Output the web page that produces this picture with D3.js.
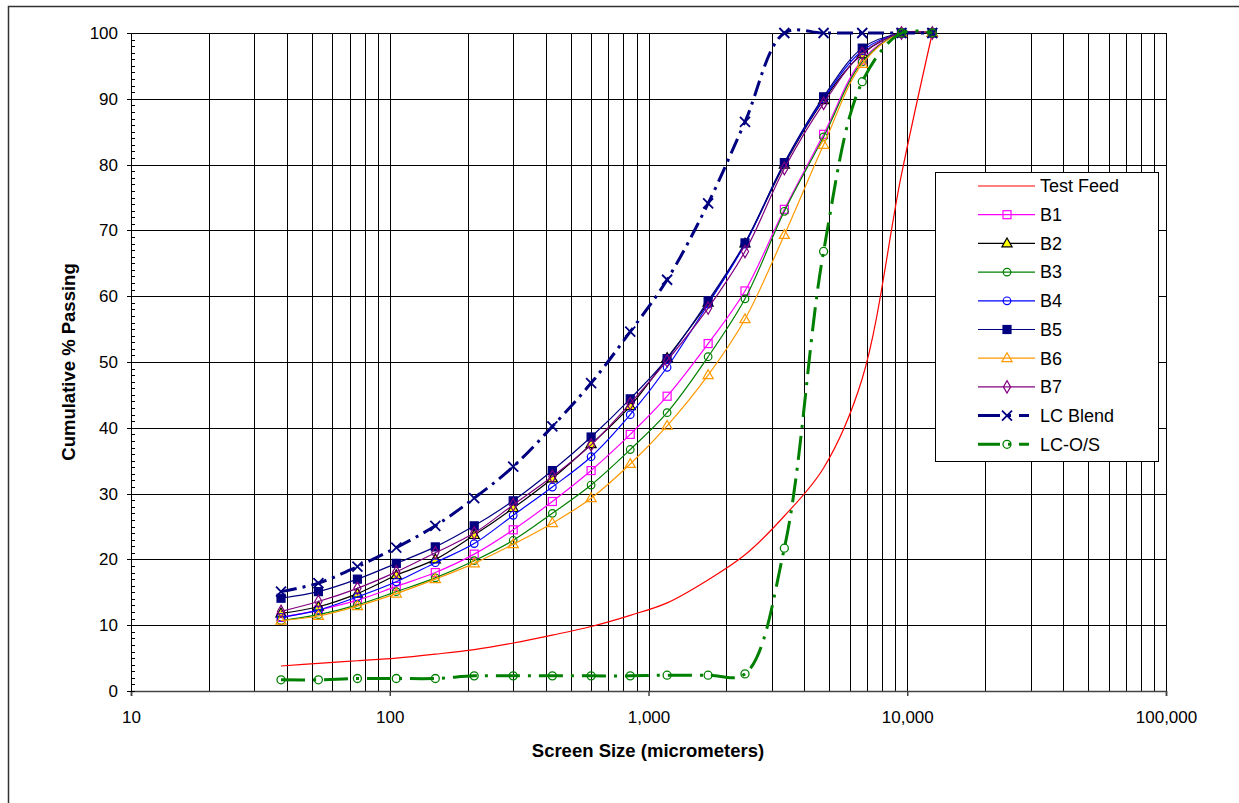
<!DOCTYPE html>
<html>
<head>
<meta charset="utf-8">
<script src="https://cdn.jsdelivr.net/npm/d3@7"></script>
<style>
  body { margin: 0; background: #fff; }
  svg { display: block; font-family: Arial, "Liberation Sans", sans-serif; }
  .tick text { font-size: 17px; fill: #000; }
</style>
</head>
<body>
<svg id="chart" width="1239" height="803"></svg>
<script>
// sieve sizes (micrometers)
const sizes = [38, 53, 75, 106, 150, 212, 300, 425, 600, 850, 1180, 1700, 2360, 3350, 4750, 6700, 9500, 12500];

// cumulative % passing
const testFeed = [3.8, 4.2, 4.6, 5.0, 5.6, 6.3, 7.3, 8.5, 9.8, 11.5, 13.4, 16.9, 20.7, 26.6, 33.9, 47.5, 78.5, 100];
const b1 = [11.2, 12.3, 13.8, 15.9, 18.0, 20.8, 24.5, 28.8, 33.5, 39.0, 44.8, 52.8, 60.8, 73.2, 84.6, 95.9, 100, 100];
const b2 = [11.8, 12.8, 14.8, 17.6, 20.0, 23.7, 27.8, 32.3, 37.5, 43.3, 50.6, 59.0, 68.0, 80.0, 89.8, 96.8, 100, 100];
const b3 = [10.7, 11.6, 13.1, 15.1, 17.2, 19.8, 22.9, 27.0, 31.3, 36.7, 42.3, 50.8, 59.6, 72.9, 84.2, 95.6, 100, 100];
const b4 = [11.2, 12.3, 14.3, 16.6, 19.5, 22.4, 26.7, 31.0, 35.6, 42.0, 49.2, 58.8, 67.9, 80.2, 90.0, 97.3, 100, 100];
const b5 = [14.1, 15.1, 17.0, 19.4, 21.9, 25.1, 28.9, 33.5, 38.6, 44.4, 50.5, 59.3, 68.1, 80.3, 90.3, 97.7, 100, 100];
const b6 = [10.7, 11.4, 12.9, 14.8, 17.0, 19.4, 22.3, 25.5, 29.3, 34.5, 40.3, 48.0, 56.5, 69.3, 83.0, 95.3, 100, 100];
const b7 = [12.1, 13.6, 15.6, 18.1, 21.0, 24.0, 28.3, 32.6, 37.4, 43.7, 50.2, 58.2, 66.8, 79.4, 89.3, 96.9, 100, 100];
const lcBlend = [15.1, 16.4, 18.9, 21.8, 25.1, 29.3, 34.1, 40.2, 46.8, 54.6, 62.5, 74.1, 86.5, 100, 100, 100, 100, 100];
const lcOS = [1.7, 1.7, 1.9, 1.9, 1.9, 2.3, 2.3, 2.3, 2.3, 2.3, 2.4, 2.4, 2.6, 21.7, 66.8, 92.6, 100, 100];

const seriesNames = ["Test Feed", "B1", "B2", "B3", "B4", "B5", "B6", "B7", "LC Blend", "LC-O/S"];
const xTickValues = [10, 100, 1000, 10000, 100000];
const yTickValues = [0, 10, 20, 30, 40, 50, 60, 70, 80, 90, 100];

const series = [
  {name: seriesNames[0], values: testFeed, color: "#ff0000", width: 1.2, marker: null},
  {name: seriesNames[1], values: b1, color: "#ff00ff", width: 1.2, marker: "square", fill: "none"},
  {name: seriesNames[2], values: b2, color: "#000000", width: 1.2, marker: "triangle", fill: "#ffff00"},
  {name: seriesNames[3], values: b3, color: "#008000", width: 1.2, marker: "circle", fill: "none"},
  {name: seriesNames[4], values: b4, color: "#0000ff", width: 1.2, marker: "circle", fill: "none"},
  {name: seriesNames[5], values: b5, color: "#000080", width: 1.2, marker: "square", fill: "#000080"},
  {name: seriesNames[6], values: b6, color: "#ff9900", width: 1.2, marker: "triangle", fill: "none"},
  {name: seriesNames[7], values: b7, color: "#800080", width: 1.2, marker: "diamond", fill: "none"},
  {name: seriesNames[8], values: lcBlend, color: "#000080", width: 3, marker: "cross", dash: "16,6,3,6"},
  {name: seriesNames[9], values: lcOS, color: "#008000", width: 3, marker: "bigcircle", dash: "24,8,3,8"}
];

const plotLeft = 131, plotRight = 1166, plotTop = 33, plotBottom = 691;
const svg = d3.select("#chart");

// outer chart border
svg.append("rect")
  .attr("x", 8.5).attr("y", 6.5)
  .attr("width", 1240).attr("height", 810)
  .attr("fill", "#fff").attr("stroke", "#333").attr("stroke-width", 1.5);

const x = d3.scaleLog().domain([10, 100000]).range([plotLeft, plotRight]);
const y = d3.scaleLinear().domain([0, 100]).range([plotBottom, plotTop]);

// vertical gridlines at every log tick
const xGrid = svg.append("g")
  .attr("transform", `translate(0,${plotBottom})`)
  .call(d3.axisBottom(x).tickValues(x.ticks()).tickSize(-(plotBottom - plotTop)).tickFormat(""));
xGrid.select(".domain").remove();
xGrid.selectAll("line").attr("stroke", "#000").attr("shape-rendering", "crispEdges");

// horizontal gridlines
const yGrid = svg.append("g")
  .attr("transform", `translate(${plotLeft},0)`)
  .call(d3.axisLeft(y).tickValues(yTickValues).tickSize(-(plotRight - plotLeft)).tickFormat(""));
yGrid.select(".domain").remove();
yGrid.selectAll("line").attr("stroke", "#000").attr("shape-rendering", "crispEdges");

// axes
const xAxis = svg.append("g")
  .attr("transform", `translate(0,${plotBottom})`)
  .call(d3.axisBottom(x).tickValues(xTickValues).tickFormat(d3.format(",")).tickSize(5).tickPadding(15));
xAxis.selectAll("line, path").attr("stroke", "#444").attr("stroke-width", 1.5);

const yAxis = svg.append("g")
  .attr("transform", `translate(${plotLeft},0)`)
  .call(d3.axisLeft(y).tickValues(yTickValues).tickSize(4).tickPadding(9));
yAxis.selectAll("line, path").attr("stroke", "#000").attr("shape-rendering", "crispEdges");

const yMinor = svg.append("g")
  .attr("transform", `translate(${plotLeft},0)`)
  .call(d3.axisRight(y).tickValues(d3.range(0, 101, 1)).tickSize(4).tickFormat(""));
yMinor.select(".domain").remove();
yMinor.selectAll("line").attr("stroke", "#000").attr("shape-rendering", "crispEdges");

// titles
svg.append("text")
  .attr("x", 648).attr("y", 757)
  .attr("text-anchor", "middle")
  .attr("font-size", 18.5).attr("font-weight", "bold")
  .text("Screen Size (micrometers)");

svg.append("text")
  .attr("transform", "translate(75,362) rotate(-90)")
  .attr("text-anchor", "middle")
  .attr("font-size", 18.5).attr("font-weight", "bold")
  .text("Cumulative % Passing");

function drawMarker(g, s, cx, cy) {
  const c = s.color;
  if (s.marker === "square") {
    g.append("rect").attr("x", cx - 4).attr("y", cy - 4).attr("width", 8).attr("height", 8)
      .attr("fill", s.fill).attr("stroke", c).attr("stroke-width", 1.2);
  } else if (s.marker === "triangle") {
    g.append("path").attr("transform", `translate(${cx},${cy + 0.5})`)
      .attr("d", d3.symbol(d3.symbolTriangle, 45)())
      .attr("fill", s.fill).attr("stroke", c).attr("stroke-width", 1.2);
  } else if (s.marker === "circle") {
    g.append("circle").attr("cx", cx).attr("cy", cy).attr("r", 3.8)
      .attr("fill", s.fill).attr("stroke", c).attr("stroke-width", 1.2);
  } else if (s.marker === "bigcircle") {
    g.append("circle").attr("cx", cx).attr("cy", cy).attr("r", 4)
      .attr("fill", "none").attr("stroke", c).attr("stroke-width", 1.3);
  } else if (s.marker === "diamond") {
    g.append("path").attr("transform", `translate(${cx},${cy})`)
      .attr("d", d3.symbol(d3.symbolDiamond, 45)())
      .attr("fill", s.fill).attr("stroke", c).attr("stroke-width", 1.2);
  } else if (s.marker === "cross") {
    g.append("path").attr("transform", `translate(${cx},${cy})`)
      .attr("d", "M-5,-5L5,5M-5,5L5,-5")
      .attr("fill", "none").attr("stroke", c).attr("stroke-width", 1.8);
  }
}

const line = d3.line()
  .x(d => x(d[0]))
  .y(d => y(d[1]))
  .curve(d3.curveCatmullRom.alpha(0.5));

const plot = svg.append("g");
series.forEach(s => {
  const pts = sizes.map((v, i) => [v, s.values[i]]);
  plot.append("path")
    .datum(pts)
    .attr("d", line)
    .attr("fill", "none")
    .attr("stroke", s.color)
    .attr("stroke-width", s.width)
    .attr("stroke-dasharray", s.dash || null);
  if (s.marker) {
    const mg = plot.append("g");
    pts.forEach(p => drawMarker(mg, s, x(p[0]), y(p[1])));
  }
});

// legend
const legend = svg.append("g");
legend.append("rect")
  .attr("x", 935.5).attr("y", 172.5).attr("width", 223).attr("height", 289)
  .attr("fill", "#fff").attr("stroke", "#000").attr("stroke-width", 1);

series.forEach((s, i) => {
  const ly = 186 + i * 28.7;
  const g = legend.append("g");
  g.append("line")
    .attr("x1", 978).attr("x2", 1035).attr("y1", ly).attr("y2", ly)
    .attr("stroke", s.color).attr("stroke-width", s.width)
    .attr("stroke-dasharray", s.dash ? "22,8,3,8,10" : null);
  if (s.marker) drawMarker(g, s, 1007, ly);
  g.append("text")
    .attr("x", 1040).attr("y", ly).attr("dy", "0.35em")
    .attr("font-size", 18)
    .text(s.name);
});
</script>
</body>
</html>
